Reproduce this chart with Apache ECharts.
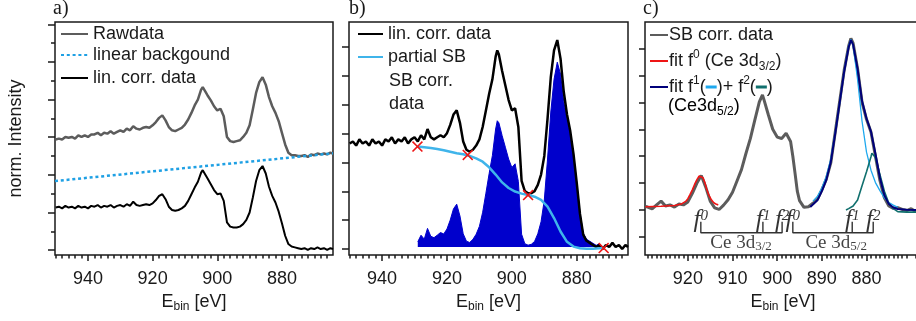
<!DOCTYPE html>
<html>
<head>
<meta charset="utf-8">
<script src="https://cdn.jsdelivr.net/npm/echarts@6/dist/echarts.min.js"></script>
<style>
html, body { margin: 0; padding: 0; background: #fff; }
#chart { width: 916px; height: 321px; }
</style>
</head>
<body>
<div id="chart"></div>
<script>
// ---- Ce 3d spectra, panels a) and b): binding energy [eV] ----
const energyAB = [
  950, 949, 948, 947, 946, 945, 944, 943, 942, 941,
  940, 939, 938, 937, 936, 935, 934, 933, 932, 931,
  930, 929, 928, 927, 926, 925, 924, 923, 922, 921,
  920, 919, 918, 917, 916, 915, 914, 913, 912, 911,
  910, 909, 908, 907, 906, 905,
  904.5,
  904, 903, 902, 901, 900, 899, 898, 897, 896, 895,
  894, 893, 892, 891, 890, 889, 888, 887, 886, 885,
  884, 883, 882, 881, 880, 879, 878, 877, 876, 875,
  874, 873, 872, 871, 870, 869, 868, 867, 866, 865,
  864.2
];
// linear-background corrected intensity (normalised to the 3d5/2 maximum)
const linCorrData = [
  0.50, 0.51, 0.49, 0.52, 0.50, 0.51, 0.49, 0.52, 0.50, 0.51,
  0.49, 0.52, 0.51, 0.53, 0.50, 0.52, 0.51, 0.53, 0.50, 0.52,
  0.53, 0.51, 0.54, 0.52, 0.57, 0.53, 0.52, 0.53, 0.54, 0.53,
  0.55, 0.59, 0.64, 0.66, 0.60, 0.51, 0.47, 0.46, 0.47, 0.49,
  0.52, 0.58, 0.66, 0.74, 0.81, 0.92,
  0.95,
  0.93, 0.85, 0.78, 0.71, 0.66, 0.67, 0.58, 0.32, 0.27, 0.26,
  0.26, 0.27, 0.30, 0.35, 0.44, 0.62, 0.82, 0.95, 1.00, 0.91,
  0.75, 0.64, 0.56, 0.45, 0.31, 0.16, 0.06, 0.03, 0.02, 0.01,
  0.00, 0.01, -0.01, 0.01, 0.00, 0.02, 0.00, 0.01, -0.01, 0.01,
  0.00
];
// raw spectrum, shown offset above the corrected one
const rawData = [
  1.32, 1.33, 1.32, 1.35, 1.34, 1.35, 1.33, 1.37, 1.35, 1.37,
  1.35, 1.38, 1.38, 1.40, 1.37, 1.40, 1.39, 1.42, 1.39, 1.41,
  1.43, 1.41, 1.45, 1.43, 1.48, 1.45, 1.44, 1.46, 1.47, 1.46,
  1.49, 1.53, 1.58, 1.61, 1.55, 1.47, 1.43, 1.42, 1.44, 1.46,
  1.50, 1.56, 1.64, 1.73, 1.80, 1.92,
  1.95,
  1.93, 1.85, 1.79, 1.72, 1.67, 1.69, 1.60, 1.35, 1.30, 1.29,
  1.30, 1.31, 1.35, 1.40, 1.49, 1.68, 1.88, 2.01, 2.07, 1.98,
  1.83, 1.72, 1.64, 1.54, 1.40, 1.26, 1.16, 1.13, 1.13, 1.12,
  1.12, 1.13, 1.11, 1.14, 1.13, 1.15, 1.14, 1.15, 1.14, 1.16,
  1.15
];
// linear background (end points)
const backgroundE = [950.2, 864.2];
const backgroundVal = [0.819, 1.153];

// partial Shirley background
const partialSbE = [929.1, 927, 925, 923, 921, 919, 917, 915, 913, 911, 909, 907, 905, 903, 901,
  899, 897, 895, 893, 891, 889, 887, 885, 883, 881, 879, 877, 875, 873, 871.7];
const partialSbVal = [0.485, 0.482, 0.478, 0.473, 0.467, 0.460, 0.453, 0.448, 0.440, 0.428, 0.412,
  0.385, 0.350, 0.312, 0.285, 0.268, 0.258, 0.251, 0.243, 0.228, 0.195, 0.140, 0.075, 0.025,
  0.002, -0.006, -0.008, -0.008, -0.006, -0.005];
// anchor points of the background
const anchorE = [929.1, 913.6, 895.0, 871.7];
const anchorVal = [0.485, 0.445, 0.251, -0.005];

// Shirley-background corrected data, panel b)
const sbCorrE = [
  929, 928, 927, 926, 925, 924, 923, 922, 921, 920,
  919, 918, 917, 916, 915, 914, 913, 912, 911, 910,
  909, 908, 907, 906, 905,
  904.5,
  904, 903, 902, 901, 900, 899, 898, 897, 896, 895,
  894, 893, 892, 891, 890, 889, 888, 887, 886, 885,
  884, 883, 882, 881, 880, 879, 878, 877, 876, 875,
  874, 873, 872
];
const sbCorrVal = [
  0.025, 0.057, 0.038, 0.090, 0.052, 0.045, 0.057, 0.070, 0.063, 0.087,
  0.130, 0.184, 0.207, 0.150, 0.064, 0.028, 0.022, 0.037, 0.062, 0.100,
  0.168, 0.260, 0.355, 0.442, 0.570,
  0.610,
  0.600, 0.538, 0.482, 0.425, 0.384, 0.402, 0.317, 0.062, 0.016, 0.009,
  0.013, 0.027, 0.064, 0.122, 0.227, 0.425, 0.652, 0.810, 0.893, 0.835,
  0.702, 0.615, 0.548, 0.448, 0.313, 0.166, 0.067, 0.038, 0.028, 0.018,
  0.008, 0.016, 0.000
];

// ---- panel c): SB corrected data and peak fits ----
const energyC = [929.5, 929, 928, 927, 926, 925, 924, 923, 922, 921, 920, 919, 918, 917, 916,
  915, 914, 913, 912, 911, 910, 909, 908, 907, 906, 905, 904, 903.3, 903, 902, 901, 900, 899,
  898, 897, 896.5, 896, 895.5, 895, 894, 893, 892, 891, 890, 889, 888, 887, 886, 885, 884,
  883.5, 883, 882, 881, 880, 879, 878, 877, 876, 875, 874, 873, 872, 871, 870, 869, 868, 867.8];
const sbCorrC = [0.13, 0.11, 0.04, 0.19, 0.33, 0.15, 0.19, 0.11, 0.22, 0.19, 0.30, 0.62, 0.99,
  1.28, 0.85, 0.33, 0.08, 0.02, 0.18, 0.38, 0.66, 1.08, 1.50, 2.10, 2.66, 3.35, 4.02, 4.28, 4.12,
  3.55, 3.00, 2.71, 2.66, 2.85, 2.55, 2.00, 1.36, 0.70, 0.35, 0.10, 0.12, 0.25, 0.40, 0.75, 1.15,
  1.75, 2.90, 4.05, 5.20, 6.10, 6.38, 6.20, 5.25, 4.00, 3.37, 2.90, 2.00, 1.10, 0.45, 0.15, 0.06,
  0.09, 0.02, -0.02, 0.05, -0.06, -0.03, -0.04];

const fitF0E = [929.5, 926, 923, 921.5, 920.5, 920, 919.5, 919, 918.5, 918, 917.5, 917.1, 916.6,
  916.2, 915.8, 915.3, 914.7, 914.2, 913.6, 913.2];
const fitF0Val = [0.12, 0.14, 0.17, 0.22, 0.32, 0.42, 0.58, 0.75, 0.95, 1.12, 1.26, 1.30, 1.20,
  1.02, 0.78, 0.55, 0.37, 0.27, 0.21, 0.19];

const fitSumE = [892.6, 891, 890, 889, 888, 887, 886, 885, 884, 883.5, 883, 882, 881, 880, 879,
  878, 877, 876, 875, 874, 873, 871, 869, 867.8];
const fitSumVal = [0.11, 0.36, 0.70, 1.12, 1.78, 2.85, 4.00, 5.15, 6.05, 6.32, 6.15, 5.25, 4.05,
  3.40, 2.92, 2.08, 1.20, 0.55, 0.22, 0.09, 0.04, 0.01, 0.00, 0.00];

const fitF1E = [892, 891, 890, 889, 888, 887, 886, 885, 884, 883.5, 883, 882, 881, 880, 879, 878,
  877, 876, 875, 874, 873];
const fitF1Val = [0.33, 0.50, 0.82, 1.25, 1.90, 2.90, 4.00, 5.18, 6.10, 6.35, 6.12, 4.85, 3.30,
  2.15, 1.48, 1.02, 0.72, 0.45, 0.28, 0.18, 0.10];

const fitF2E = [884.6, 884, 883, 882, 881, 880, 879, 878.8, 878, 877, 876, 875, 874, 873, 871, 867.8];
const fitF2Val = [0.00, 0.05, 0.15, 0.37, 0.90, 1.42, 1.98, 2.11, 1.95, 1.32, 0.70, 0.25, 0.05,
  -0.06, -0.08, -0.08];

// final-state assignment f0, f1, f2 for 3d3/2 and 3d5/2
const peakTickE = [917.1, 903.2, 898.9, 896.5, 883.2, 878.5];
const peakTickLabels = ['0', '1', '2', '0', '1', '2'];
const groupE = [908.1, 886.8];
const groupLabels = ['3/2', '5/2'];

// ---- axis ticks ----
const xMajorAB = [940, 920, 900, 880];
const xMajorC = [920, 910, 900, 890, 880];
const yMajorA = [-0.012, 0.441, 0.894, 1.348, 1.801, 2.254, 2.707];
const yMinorA = [0.214, 0.667, 1.121, 1.575, 2.028, 2.481];
const yTicksB = [-0.0097, 0.130, 0.269, 0.409, 0.548, 0.687, 0.827, 0.966];
const yTicksC = [-1, 0, 1, 2, 3, 4, 5, 6];

const xMinorAB = [];
for (let e = 866; e <= 950; e += 2) if (e % 20 !== 0) xMinorAB.push(e);
const xMinorC = [];
for (let e = 868; e <= 929; e += 1) if (e % 10 !== 0) xMinorC.push(e);

// ---- styling ----
const SANS = 'Liberation Sans, Arial, sans-serif';
const SERIF = 'Liberation Serif, Times New Roman, serif';
const INK = '#1a1a1a';
const GRAY = '#5c5c5c';
const C_BG = '#1ea0e4';
const C_SB = '#3fb4ea';
const C_FILL = '#0000cc';
const C_RED = '#ee1515';
const C_NAVY = '#00007a';
const C_F1 = '#1ea8ee';
const C_F2 = '#11706e';

const pairs = (xs, ys) => xs.map((x, i) => [x, ys[i]]);

const RICH = {
  t: { fontFamily: SANS, fontSize: 18, color: INK, lineHeight: 24 },
  sup: { fontFamily: SANS, fontSize: 12, color: INK, lineHeight: 12, verticalAlign: 'top' },
  sub: { fontFamily: SANS, fontSize: 12, color: INK, lineHeight: 12, verticalAlign: 'bottom' },
  c1: { backgroundColor: C_F1, width: 11, height: 3, lineHeight: 3 },
  c2: { backgroundColor: C_F2, width: 11, height: 3, lineHeight: 3 }
};

const AXIS_NAME_RICH = {
  e: { fontFamily: SANS, fontSize: 18, color: INK, lineHeight: 22 },
  s: { fontFamily: SANS, fontSize: 12, color: INK, lineHeight: 10, verticalAlign: 'bottom' }
};

const SERIF_RICH = {
  f: { fontFamily: SERIF, fontStyle: 'italic', fontSize: 25, color: '#000', lineHeight: 24 },
  p: { fontFamily: SERIF, fontStyle: 'italic', fontSize: 15, color: '#000', lineHeight: 14, verticalAlign: 'top' },
  r: { fontFamily: SERIF, fontSize: 19, color: '#111', lineHeight: 22 },
  s: { fontFamily: SERIF, fontSize: 13, color: '#111', lineHeight: 13, verticalAlign: 'bottom' }
};

function xAxesFor(gridIndex, min, max, major, minor) {
  const tickStyle = { color: INK, width: 1.5 };
  return [
    {
      type: 'value', gridIndex, min, max, inverse: true, position: 'bottom',
      axisLine: { show: false, onZero: false },
      splitLine: { show: false },
      axisTick: { show: true, inside: false, length: 6, customValues: major, lineStyle: tickStyle },
      axisLabel: { show: true, customValues: major, margin: 15, color: INK, fontSize: 18, fontFamily: SANS },
      name: '{e|E}{s|bin}{e| [eV]}',
      nameLocation: 'middle', nameGap: 35,
      nameTextStyle: { rich: AXIS_NAME_RICH }
    },
    {
      type: 'value', gridIndex, min, max, inverse: true, position: 'bottom',
      axisLine: { show: false, onZero: false },
      splitLine: { show: false },
      axisLabel: { show: false },
      axisTick: { show: true, inside: false, length: 3.5, customValues: minor, lineStyle: tickStyle }
    }
  ];
}

function yAxisFor(gridIndex, min, max, ticks, length, extra) {
  return Object.assign({
    type: 'value', gridIndex, min, max, position: 'left',
    axisLine: { show: false, onZero: false },
    splitLine: { show: false },
    axisLabel: { show: false },
    axisTick: { show: true, inside: false, length, customValues: ticks, lineStyle: { color: INK, width: 1.5 } }
  }, extra || {});
}

// one legend row; the line sample only, no symbol on it
function legendRow(name, left, top, itemWidth, formatter, gapFix) {
  return {
    data: [name], left, top, orient: 'vertical', padding: 0,
    itemWidth, itemHeight: 20, itemGap: 0, selectedMode: false,
    itemStyle: { opacity: 0, color: 'rgba(0,0,0,0)', borderWidth: 0 },
    formatter,
    textStyle: { fontFamily: SANS, fontSize: 18, color: INK, rich: RICH, padding: [0, 0, 0, gapFix || 0] }
  };
}

const lineSeries = (name, xi, yi, data, color, width, extra) => Object.assign({
  name, type: 'line', xAxisIndex: xi, yAxisIndex: yi, data,
  symbol: 'none', showSymbol: false, smooth: false, silent: true,
  lineStyle: { color, width }, itemStyle: { color }
}, extra || {});

// text placed at a data point, drawn by an invisible scatter point
const annotationSeries = (name, data, formatter, offset, baseFont) => ({
  name, type: 'scatter', xAxisIndex: 4, yAxisIndex: 3, silent: true, z: 6, clip: false,
  symbol: 'rect', symbolSize: 0.01, itemStyle: { color: 'rgba(255,255,255,0)' },
  data,
  labelLayout: { hideOverlap: false },
  label: Object.assign({
    show: true, position: 'top', distance: 0, offset,
    fontFamily: SERIF, fontSize: 20, color: '#111',
    textBorderWidth: 0, textShadowBlur: 0,
    formatter, rich: SERIF_RICH
  }, baseFont || {})
});

const GRID_BASE = { top: 22, height: 233, show: true, borderColor: INK, borderWidth: 1.5,
  backgroundColor: 'rgba(0,0,0,0)', containLabel: false, outerBoundsMode: 'none' };

const BRACKET_TOP = -0.435;
const BRACKET_BASE = -0.844;
const bracketStyle = { color: '#333', width: 1.4 };

const option = {
  animation: false,
  backgroundColor: '#fff',
  grid: [
    Object.assign({ left: 55, width: 278 }, GRID_BASE),
    Object.assign({ left: 349, width: 279 }, GRID_BASE),
    Object.assign({ left: 645, width: 276 }, GRID_BASE)
  ],
  xAxis: [
    ...xAxesFor(0, 864.2, 950.2, xMajorAB, xMinorAB),
    ...xAxesFor(1, 864.2, 950.2, xMajorAB, xMinorAB),
    ...xAxesFor(2, 867.8, 929.6, xMajorC, xMinorC)
  ],
  yAxis: [
    yAxisFor(0, -0.072, 2.735, yMajorA, 7, {
      name: 'norm. Intensity', nameLocation: 'middle', nameGap: 30, nameRotate: 90,
      nameTextStyle: { fontFamily: SANS, fontSize: 18, color: INK }
    }),
    yAxisFor(0, -0.072, 2.735, yMinorA, 4),
    yAxisFor(1, -0.0386, 1.087, yTicksB, 7),
    yAxisFor(2, -1.673, 6.989, yTicksC, 6)
  ],
  legend: [
    legendRow('Rawdata', 60, 25, 27),
    legendRow('linear backgound', 60, 46, 27),
    legendRow('lin. corr. data', 60, 69, 27),
    legendRow('lin. corr. data', 357, 25, 25),
    legendRow('partial SB', 357, 48, 25),
    legendRow('SB corr. data', 649, 26, 18, undefined, -4),
    legendRow('fit f0', 649, 49, 18, () => '{t|fit f}{sup|0}{t| (Ce 3d}{sub|3/2}{t|)}', -4),
    legendRow('fit f1+f2', 649, 75, 18,
      () => '{t|fit f}{sup|1}{t|(}{c1| }{t|)+ f}{sup|2}{t|(}{c2| }{t|)}', -4)
  ],
  graphic: [
    { type: 'text', left: 53, top: -1, style: { text: 'a)', font: '20px ' + SERIF, fill: INK } },
    { type: 'text', left: 349, top: -1, style: { text: 'b)', font: '20px ' + SERIF, fill: INK } },
    { type: 'text', left: 643, top: -1, style: { text: 'c)', font: '20px ' + SERIF, fill: INK } },
    { type: 'text', left: 389, top: 72, style: { text: 'SB corr.', font: '18px ' + SANS, fill: INK } },
    { type: 'text', left: 389, top: 95, style: { text: 'data', font: '18px ' + SANS, fill: INK } },
    { type: 'text', left: 668, top: 97, style: { text: '{t|(Ce3d}{sub|5/2}{t|)}', rich: RICH } }
  ],
  series: [
    // panel a)
    lineSeries('Rawdata', 0, 0, pairs(energyAB, rawData), GRAY, 2.5),
    lineSeries('linear backgound', 0, 0, pairs(backgroundE, backgroundVal), C_BG, 2.5,
      { lineStyle: { color: C_BG, width: 2.5, type: [3, 2.8] } }),
    lineSeries('lin. corr. data', 0, 0, pairs(energyAB, linCorrData), '#000', 2),
    // panel b)
    lineSeries('SB corr. data (b)', 2, 2, pairs(sbCorrE, sbCorrVal), C_FILL, 1,
      { areaStyle: { color: C_FILL, opacity: 1, origin: 0 } }),
    lineSeries('lin. corr. data', 2, 2, pairs(energyAB, linCorrData), '#000', 2.5),
    lineSeries('partial SB', 2, 2, pairs(partialSbE, partialSbVal), C_SB, 2.5),
    {
      name: 'anchors', type: 'scatter', xAxisIndex: 2, yAxisIndex: 2, silent: true, z: 5,
      data: pairs(anchorE, anchorVal),
      symbol: 'path://M0,1L1,0L5,4L9,0L10,1L6,5L10,9L9,10L5,6L1,10L0,9L4,5Z',
      symbolSize: 11, itemStyle: { color: C_RED, opacity: 1 }
    },
    // panel c)
    lineSeries('SB corr. data', 4, 3, pairs(energyC, sbCorrC), GRAY, 3),
    lineSeries('fit f0', 4, 3, pairs(fitF0E, fitF0Val), C_RED, 1.6),
    lineSeries('fit f1', 4, 3, pairs(fitF1E, fitF1Val), C_F1, 1.3),
    lineSeries('fit f2', 4, 3, pairs(fitF2E, fitF2Val), C_F2, 1.6),
    lineSeries('fit f1+f2', 4, 3, pairs(fitSumE, fitSumVal), C_NAVY, 2),
    // assignment brackets
    lineSeries('bracket 3/2', 4, 3, [[peakTickE[0], BRACKET_TOP], [peakTickE[0], BRACKET_BASE],
      [peakTickE[2], BRACKET_BASE], [peakTickE[2], BRACKET_TOP]], bracketStyle.color, bracketStyle.width),
    lineSeries('tick 3/2', 4, 3, [[peakTickE[1], BRACKET_TOP], [peakTickE[1], BRACKET_BASE]],
      bracketStyle.color, bracketStyle.width),
    lineSeries('bracket 5/2', 4, 3, [[peakTickE[3], BRACKET_TOP], [peakTickE[3], BRACKET_BASE],
      [peakTickE[5], BRACKET_BASE], [peakTickE[5], BRACKET_TOP]], bracketStyle.color, bracketStyle.width),
    lineSeries('tick 5/2', 4, 3, [[peakTickE[4], BRACKET_TOP], [peakTickE[4], BRACKET_BASE]],
      bracketStyle.color, bracketStyle.width),
    annotationSeries('final states',
      peakTickE.map((e, i) => ({ value: [e, BRACKET_BASE], name: peakTickLabels[i] })),
      p => '{f|f}{p|' + p.name + '}', [-2, 1],
      { fontStyle: 'italic', fontSize: 25, color: '#000' }),
    annotationSeries('levels',
      groupE.map((e, i) => ({ value: [e, -1.62], name: groupLabels[i] })),
      p => '{r|Ce 3d}{s|' + p.name + '}', [0, 0])
  ]
};

const chart = echarts.init(document.getElementById('chart'), null, { renderer: 'canvas' });
chart.setOption(option);
</script>
</body>
</html>
